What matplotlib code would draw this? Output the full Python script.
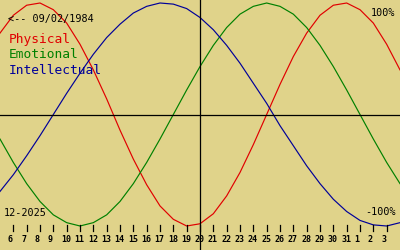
import matplotlib
matplotlib.use("Agg")
import matplotlib.pyplot as plt

# Days shown: Dec 5, 2025 .. Jan 4, 2026
day_labels = [5, 6, 7, 8, 9, 10, 11, 12, 13, 14, 15, 16, 17, 18, 19, 20,
              21, 22, 23, 24, 25, 26, 27, 28, 29, 30, 31, 1, 2, 3, 4]
physical = [0.73, 0.89, 0.98, 1.00, 0.94, 0.82, 0.63, 0.40, 0.14, -0.14,
            -0.40, -0.63, -0.82, -0.94, -1.00, -0.98, -0.89, -0.73, -0.52, -0.27,
            0.00, 0.27, 0.52, 0.73, 0.89, 0.98, 1.00, 0.94, 0.82, 0.63, 0.40]
emotional = [-0.22, -0.43, -0.62, -0.78, -0.90, -0.97, -1.00, -0.97, -0.90, -0.78,
             -0.62, -0.43, -0.22, 0.00, 0.22, 0.43, 0.62, 0.78, 0.90, 0.97,
             1.00, 0.97, 0.90, 0.78, 0.62, 0.43, 0.22, 0.00, -0.22, -0.43, -0.62]
intellectual = [-0.69, -0.54, -0.37, -0.19, 0.00, 0.19, 0.37, 0.54, 0.69, 0.81,
                0.91, 0.97, 1.00, 0.99, 0.95, 0.87, 0.76, 0.62, 0.46, 0.28,
                0.10, -0.10, -0.28, -0.46, -0.62, -0.76, -0.87, -0.95, -0.99, -1.00, -0.97]
series_names = ["Physical", "Emotional", "Intellectual"]
birth_text = "<-- 09/02/1984"
month_text = "12-2025"

BG = "#E0D38A"
RED = "#E00000"
GREEN = "#008000"
BLUE = "#000099"
MONO = "DejaVu Sans Mono"

fig = plt.figure(figsize=(4, 2.5), dpi=100)
fig.patch.set_facecolor(BG)
ax = fig.add_axes([0, 0, 1, 1])
ax.set_facecolor(BG)
for s in ax.spines.values():
    s.set_visible(False)
ax.set_xticks([])
ax.set_yticks([])

x = list(range(len(day_labels)))
ax.set_xlim(0, 30)
# value v -> pixel from bottom = 135.5 + 111.5 v
ax.set_ylim(-135.5 / 111.5, (250 - 135.5) / 111.5)

ax.plot(x, physical, color=RED, lw=0.85)
ax.plot(x, emotional, color=GREEN, lw=0.85)
ax.plot(x, intellectual, color=BLUE, lw=0.85)

# axes cross
ax.axhline((250 - 115 - 135.5) / 111.5, color="black", lw=0.9)
ax.axvline(15, color="black", lw=0.9)

def py(p):  # pixel from top -> figure fraction
    return 1 - p / 250.0

for i, lab in zip(x[1:30], day_labels[1:30]):
    xf = i / 30.0
    fig.add_artist(plt.Line2D([xf, xf], [py(224.5), py(230.5)],
                              transform=fig.transFigure, color="black", lw=0.9))
    fig.text(xf - 5.5 / 400, py(241.5), str(lab), fontsize=6, fontweight="bold",
             family=MONO, ha="left", va="baseline", color="black")

fig.text(8 / 400, py(22), birth_text, fontsize=7.3, family=MONO, color="black",
         ha="left", va="baseline")
fig.text(4 / 400, py(216), month_text, fontsize=7.3, family=MONO, color="black",
         ha="left", va="baseline")
fig.text(395 / 400, py(16), "100%", fontsize=7.3, family=MONO, color="black",
         ha="right", va="baseline")
fig.text(396 / 400, py(215), "-100%", fontsize=7.3, family=MONO, color="black",
         ha="right", va="baseline")

for name, col, base in zip(series_names, [RED, GREEN, BLUE], [43, 58, 74]):
    fig.text(9 / 400, py(base), name, fontsize=9.3, family=MONO, color=col,
             ha="left", va="baseline")

fig.savefig("out.png", dpi=100, facecolor=BG)
